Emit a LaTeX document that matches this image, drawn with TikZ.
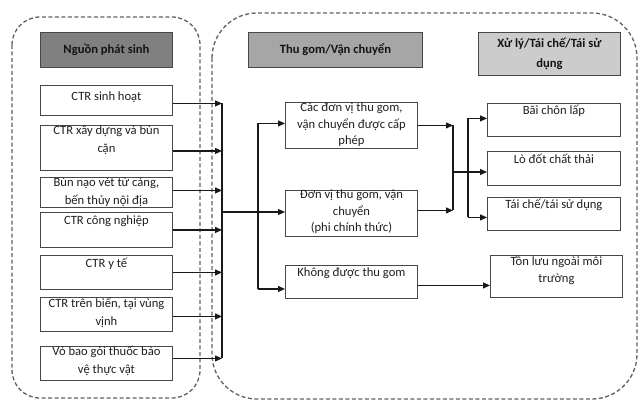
\documentclass[tikz,border=0pt]{standalone}
\usepackage{fontspec}
\setmainfont{Carlito}
\usetikzlibrary{arrows.meta,calc}
\begin{document}
\begin{tikzpicture}[x=1pt,y=-1pt,
  region/.style={draw=black!62, dash pattern=on 4pt off 2.5pt, line width=1.3pt},
  srcbox/.style={draw=black!72, line width=0.9pt, fill=white, anchor=north west, inner sep=0pt, minimum width=132pt},
  txt/.style={anchor=north, align=center, inner sep=0pt, text=black!88, font=\fontsize{12.6}{16.5}\selectfont, execute at begin node={\strut}},
  ltxt/.style={txt, font=\fontsize{12.6}{18}\selectfont},
  head/.style={draw=black!72, line width=0.9pt, anchor=north west, align=center, inner sep=0pt, text=black!92, font=\bfseries\fontsize{12.6}{20}\selectfont},
  arr/.style={-{Triangle[length=7pt,width=6pt]}, line width=1.1pt, draw=black!90},
  wire/.style={line width=1.1pt, draw=black!90}
]
\useasboundingbox (0,0) rectangle (642,401);
\fill[white] (0,0) rectangle (642,401);

% dashed regions
\draw[region, rounded corners=28pt] (12,17) rectangle (200,398);
\draw[region, rounded corners=45pt] (212,13) rectangle (637,399);

% headers
\node[head, fill=black!50, minimum width=132pt, minimum height=35pt] (h1) at (40,32) {Nguồn phát sinh};
\node[head, fill=black!35, minimum width=174pt, minimum height=35pt] (h2) at (248,32) {Thu gom/Vận chuyển};
\node[head, fill=black!20, minimum width=142pt, minimum height=43pt] (h3) at (478,32) {Xử lý/Tái chế/Tái sử\\dụng};

% source boxes
\node[srcbox, minimum height=30pt] (s1) at (40,85) {};
\node[srcbox, minimum height=45pt] (s2) at (40,125) {};
\node[srcbox, minimum height=30pt] (s3) at (40,177) {};
\node[srcbox, minimum height=35pt] (s4) at (40,212) {};
\node[srcbox, minimum height=34pt] (s5) at (40,255) {};
\node[srcbox, minimum height=34pt] (s6) at (40,297) {};
\node[srcbox, minimum height=34pt] (s7) at (40,346) {};

\node[ltxt] (ts1) at ([yshift=-2.5pt]s1.north) {CTR sinh hoạt};
\node[ltxt] (ts2) at ([yshift=-1pt]s2.north) {CTR xây dựng và bùn\\cặn};
\node[ltxt] (ts3) at ([yshift=0pt]s3.north) {Bùn nạo vét từ cảng,\\bến thủy nội địa};
\node[ltxt] (ts4) at ([yshift=0pt]s4.north) {CTR công nghiệp};
\node[ltxt] (ts5) at ([yshift=0pt]s5.north) {CTR y tế};
\node[ltxt] (ts6) at ([yshift=-1pt]s6.north) {CTR trên biển, tại vùng\\vịnh};
\node[ltxt] (ts7) at ([yshift=0pt]s7.north) {Vỏ bao gói thuốc bảo\\vệ thực vật};

% middle boxes
\node[srcbox, minimum height=46pt] (m1) at (285,102) {};
\node[srcbox, minimum height=46pt] (m2) at (285,190) {};
\node[srcbox, minimum height=33pt] (m3) at (285,265) {};
\node[txt] (tm1) at ([yshift=-1pt]m1.north) {Các đơn vị thu gom,\\vận chuyển được cấp\\phép};
\node[txt] (tm2) at ([yshift=0pt]m2.north) {Đơn vị thu gom, vận\\chuyển\\(phi chính thức)};
\node[txt] (tm3) at ([yshift=0pt]m3.north) {Không được thu gom};

% right boxes
\node[srcbox, minimum width=133pt, minimum height=33pt] (r1) at (487,103) {};
\node[srcbox, minimum width=133pt, minimum height=34pt] (r2) at (487,151) {};
\node[srcbox, minimum width=133pt, minimum height=33pt] (r3) at (487,197) {};
\node[srcbox, minimum width=132pt, minimum height=42pt] (r4) at (490,255) {};
\node[txt] (tr1) at ([yshift=0pt]r1.north) {Bãi chôn lấp};
\node[txt] (tr2) at ([yshift=-1pt]r2.north) {Lò đốt chất thải};
\node[txt] (tr3) at ([yshift=0pt]r3.north) {Tái chế/tái sử dụng};
\node[txt] (tr4) at ([yshift=-1pt]r4.north) {Tồn lưu ngoài môi\\trường};

% bus coordinates
\coordinate (bus) at (222,212);
\coordinate (split) at (258,212);
\coordinate (join) at (453,172);
\coordinate (fan) at (468,172);

% sources to bus
\foreach \s/\dy in {s1/3,s2/3,s3/-2,s4/0,s5/0,s6/2,s7/-5} {
  \draw[arr] ([yshift=-\dy pt]\s.east) -- ([yshift=-\dy pt]\s.east -| bus);
}
\draw[wire] ([yshift=-3pt]s1.east -| bus) -- ([yshift=5pt]s7.east -| bus);

% bus to middle
\draw[wire] (bus) -- (split);
\draw[wire] ([yshift=2pt]m1.west -| split) -- ([yshift=-7pt]m3.west -| split);
\draw[arr] ([yshift=2pt]m1.west -| split) -- ([yshift=2pt]m1.west);
\draw[arr] (split) -- (split -| m2.west);
\draw[arr] ([yshift=-7pt]m3.west -| split) -- ([yshift=-7pt]m3.west);

% middle to right
\draw[arr] (m1.east) -- (m1.east -| join);
\draw[arr] ([yshift=3pt]m2.east) -- ([yshift=3pt]m2.east -| join);
\draw[wire] (m1.east -| join) -- ([yshift=3pt]m2.east -| join);
\draw[wire] (join) -- (fan);
\draw[wire] ([yshift=1.5pt]r1.west -| fan) -- ([yshift=-3.5pt]r3.west -| fan);
\draw[arr] ([yshift=1.5pt]r1.west -| fan) -- ([yshift=1.5pt]r1.west);
\draw[arr] (fan) -- (fan -| r2.west);
\draw[arr] ([yshift=-3.5pt]r3.west -| fan) -- ([yshift=-3.5pt]r3.west);

\draw[arr] ([yshift=-3.5pt]m3.east) -- ([yshift=-3.5pt]m3.east -| r4.west);
\end{tikzpicture}
\end{document}
